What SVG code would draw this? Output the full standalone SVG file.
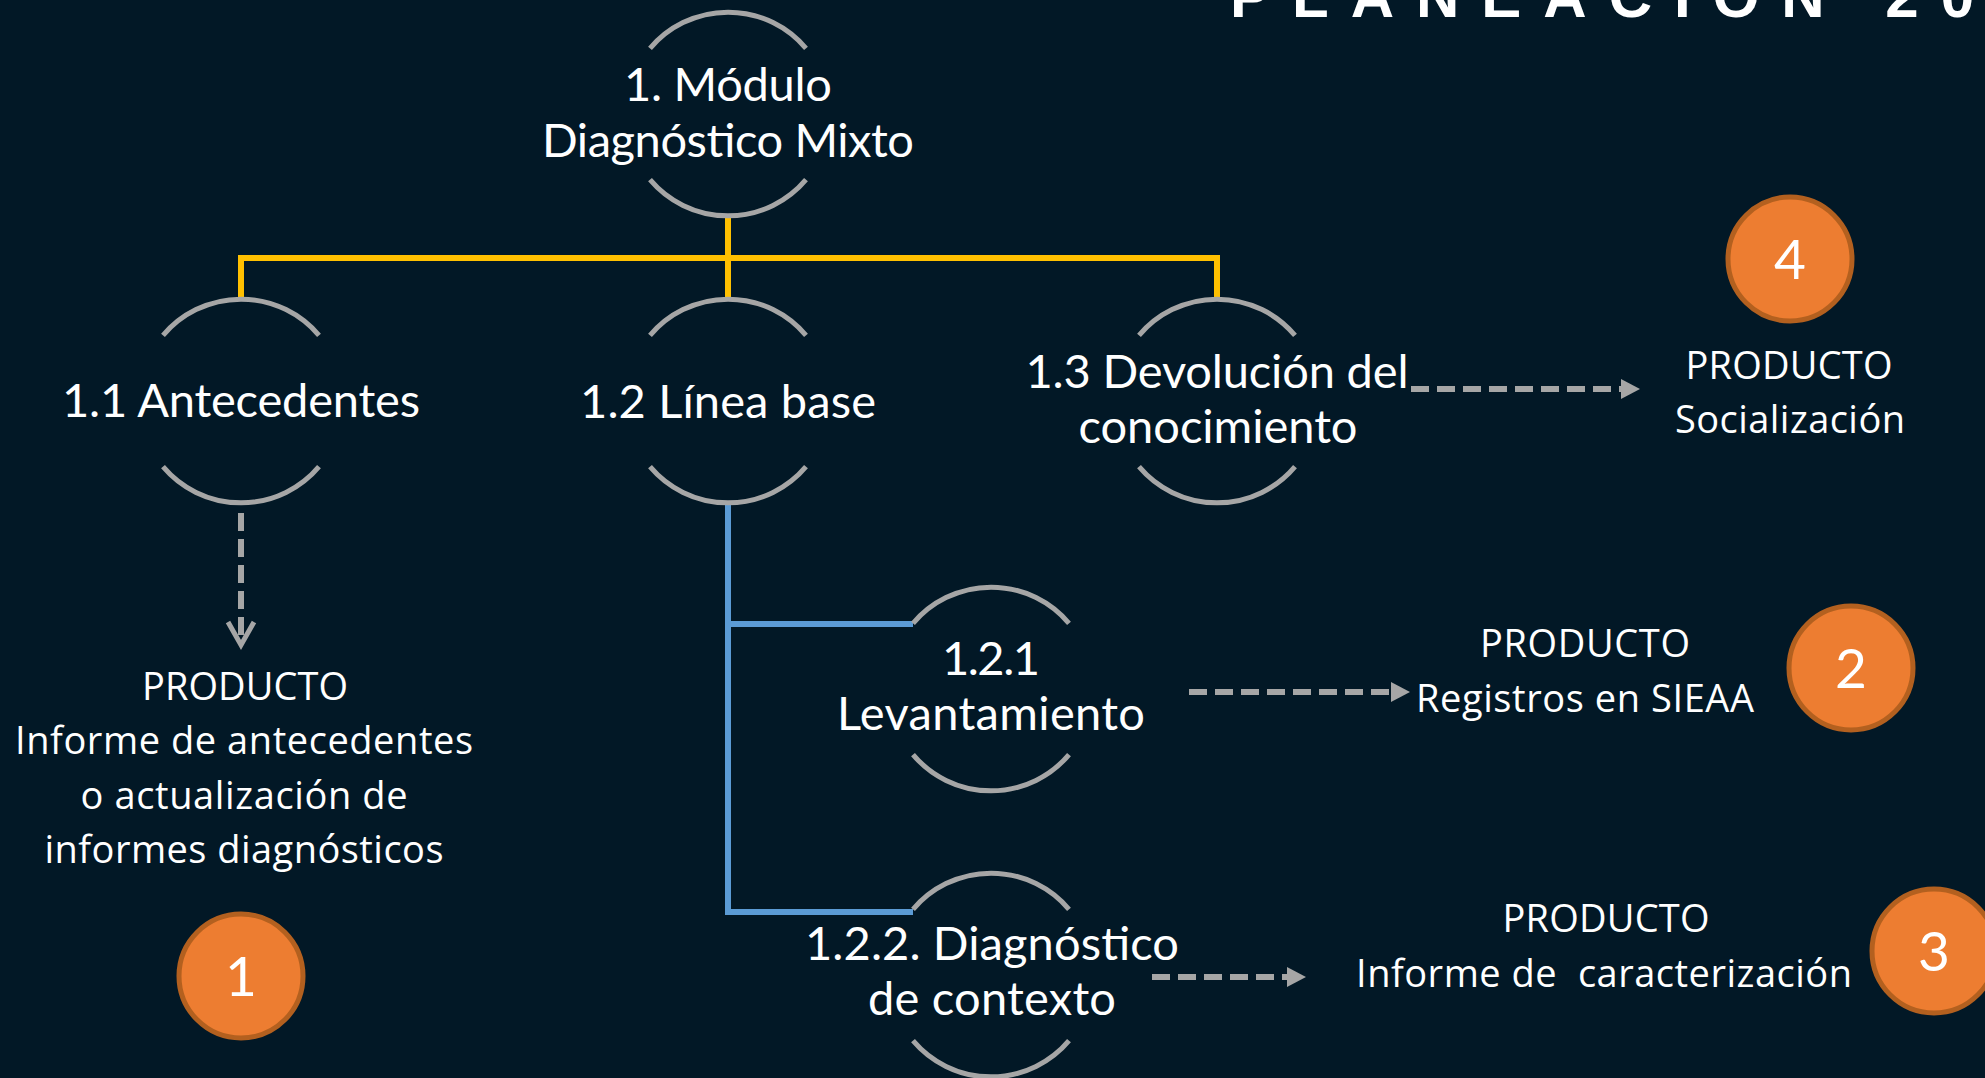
<svg xmlns="http://www.w3.org/2000/svg" width="1985" height="1078" viewBox="0 0 1985 1078">
<defs>
<style>
.bg{fill:#021826}
.arc{fill:none;stroke:#A6A6A6;stroke-width:5}
.lbl{font-family:Lato,"Open Sans",sans-serif;font-size:47px;fill:#FFFFFF;text-anchor:middle}
.prd{font-family:"Open Sans",Lato,sans-serif;font-size:38px;fill:#FFFFFF;text-anchor:middle;white-space:pre}
.num{font-family:Lato,"Open Sans",sans-serif;font-size:55px;fill:#FFFFFF;text-anchor:middle}
.badge{fill:#ED7D31;stroke:#B3601F;stroke-width:5}
.yel{fill:none;stroke:#FFC000;stroke-width:6}
.blu{fill:none;stroke:#5B9BD5;stroke-width:6}
.dash{fill:none;stroke:#A6A6A6;stroke-width:6;stroke-dasharray:18 8}
.head{fill:#A6A6A6}
.title{font-family:"Liberation Sans",Arial,sans-serif;font-weight:bold;font-size:60px;fill:#FFFFFF;letter-spacing:22px}
</style>
</defs>
<rect class="bg" x="0" y="0" width="1985" height="1078"/>
<text class="title" x="1230" y="17">PLANEACIÓN 20</text>

<g id="connectors">
  <path class="yel" d="M728 216 V299 M241 258 H1217 M241 255 V299 M1217 255 V299"/>
  <path class="blu" d="M728 504 V912 H913 M728 624 H913"/>
  <line class="dash" x1="241" y1="513" x2="241" y2="640"/>
  <polyline points="228,622 241,645 254,622" fill="none" stroke="#A6A6A6" stroke-width="5"/>
  <line class="dash" x1="1411" y1="389" x2="1622" y2="389"/>
  <polygon class="head" points="1621,379 1640,389 1621,399"/>
  <line class="dash" x1="1189" y1="692" x2="1392" y2="692"/>
  <polygon class="head" points="1391,682 1410,692 1391,702"/>
  <line class="dash" x1="1152" y1="977" x2="1288" y2="977"/>
  <polygon class="head" points="1287,967 1306,977 1287,987"/>
</g>

<g id="node-1">
  <path class="arc" d="M650 48.4 A102 102 0 0 1 806 48.4 M650 179.6 A102 102 0 0 0 806 179.6"/>
  <text class="lbl" x="728" y="101" textLength="208">1. Módulo</text>
  <text class="lbl" x="728" y="157" textLength="372">Diagnóstico Mixto</text>
</g>

<g id="node-1-1">
  <path class="arc" d="M163 335.4 A102 102 0 0 1 319 335.4 M163 466.6 A102 102 0 0 0 319 466.6"/>
  <text class="lbl" x="241" y="417" textLength="358">1.1 Antecedentes</text>
</g>

<g id="node-1-2">
  <path class="arc" d="M650 335.4 A102 102 0 0 1 806 335.4 M650 466.6 A102 102 0 0 0 806 466.6"/>
  <text class="lbl" x="728" y="418" textLength="296">1.2 Línea base</text>
</g>

<g id="node-1-3">
  <path class="arc" d="M1139 335.4 A102 102 0 0 1 1295 335.4 M1139 466.6 A102 102 0 0 0 1295 466.6"/>
  <text class="lbl" x="1217" y="388" textLength="383">1.3 Devolución del</text>
  <text class="lbl" x="1218" y="443" textLength="279">conocimiento</text>
</g>

<g id="node-1-2-1">
  <path class="arc" d="M913 623.4 A102 102 0 0 1 1069 623.4 M913 754.6 A102 102 0 0 0 1069 754.6"/>
  <text class="lbl" x="991" y="675" textLength="98">1.2.1</text>
  <text class="lbl" x="991" y="730" textLength="308">Levantamiento</text>
</g>

<g id="node-1-2-2">
  <path class="arc" d="M913 909.4 A102 102 0 0 1 1069 909.4 M913 1040.6 A102 102 0 0 0 1069 1040.6"/>
  <text class="lbl" x="992" y="960" textLength="374">1.2.2. Diagnóstico</text>
  <text class="lbl" x="992" y="1015" textLength="248">de contexto</text>
</g>

<g id="product-1">
  <text class="prd" x="245" y="700" textLength="206">PRODUCTO</text>
  <text class="prd" x="244" y="754" textLength="458">Informe de antecedentes</text>
  <text class="prd" x="244" y="809" textLength="327">o actualización de</text>
  <text class="prd" x="244" y="863" textLength="399">informes diagnósticos</text>
  <circle class="badge" cx="241" cy="976" r="62"/>
  <text class="num" x="241" y="996">1</text>
</g>

<g id="product-2">
  <text class="prd" x="1585" y="657" textLength="210">PRODUCTO</text>
  <text class="prd" x="1585" y="712" textLength="338">Registros en SIEAA</text>
  <circle class="badge" cx="1851" cy="668" r="62"/>
  <text class="num" x="1851" y="688">2</text>
</g>

<g id="product-3">
  <text class="prd" x="1606" y="932" textLength="207">PRODUCTO</text>
  <text class="prd" x="1604" y="987" textLength="496" xml:space="preserve">Informe de  caracterización</text>
  <circle class="badge" cx="1934" cy="951" r="62"/>
  <text class="num" x="1934" y="971">3</text>
</g>

<g id="product-4">
  <circle class="badge" cx="1790" cy="259" r="62"/>
  <text class="num" x="1790" y="279">4</text>
  <text class="prd" x="1789" y="379" textLength="207">PRODUCTO</text>
  <text class="prd" x="1790" y="433" textLength="230">Socialización</text>
</g>
</svg>
